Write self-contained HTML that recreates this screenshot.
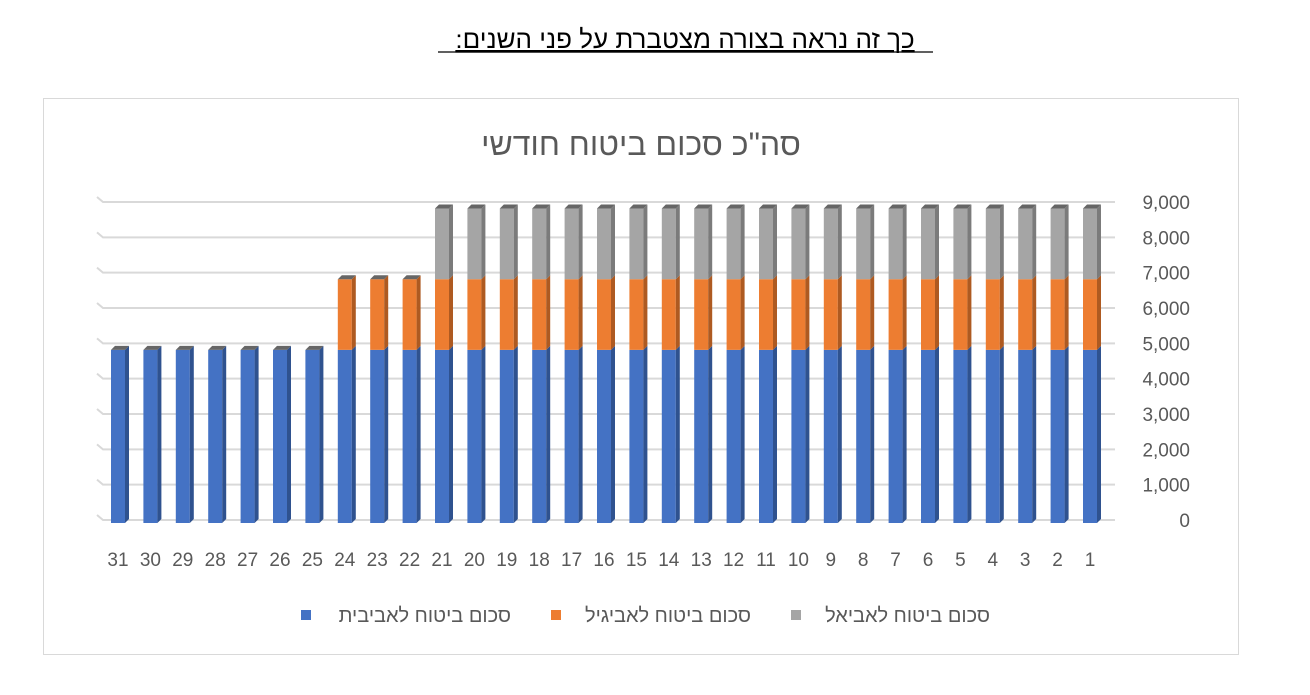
<!DOCTYPE html>
<html><head><meta charset="utf-8">
<style>
body{margin:0;background:#fff;width:1310px;height:690px;overflow:hidden;font-family:"Liberation Sans","DejaVu Sans",sans-serif;}
</style></head>
<body>
<svg width="1310" height="690" viewBox="0 0 1310 690" xmlns="http://www.w3.org/2000/svg">
<text x="685" y="48" text-anchor="middle" font-size="26" fill="#000" text-decoration="underline" direction="rtl">כך זה נראה בצורה מצטברת על פני השנים:</text>
<line x1="438" y1="52" x2="933" y2="52" stroke="#000" stroke-width="1.3"/>
<rect x="43.5" y="98.5" width="1195" height="556" fill="#fff" stroke="#d9d9d9"/>
<text x="641" y="155" text-anchor="middle" font-size="32" fill="#595959" direction="rtl">סה"כ סכום ביטוח חודשי</text>
<g id="grid"></g>
<g id="bars"></g>
<g id="yaxis"></g>
<g id="xaxis"></g>
<g>
  <rect x="301" y="610" width="10" height="10" fill="#4472c4"/>
  <text x="511" y="622" text-anchor="end" font-size="20" fill="#595959" direction="ltr">סכום ביטוח לאביבית</text>
  <rect x="551" y="610" width="10" height="10" fill="#ed7d31"/>
  <text x="751" y="622" text-anchor="end" font-size="20" fill="#595959">סכום ביטוח לאביגיל</text>
  <rect x="791" y="610" width="10" height="10" fill="#a5a5a5"/>
  <text x="990" y="622" text-anchor="end" font-size="20" fill="#595959">סכום ביטוח לאביאל</text>
</g>
</svg>
<script>
const categories = Array.from({length:31},(_,i)=>String(i+1));
const avivit = [4900,4900,4900,4900,4900,4900,4900,4900,4900,4900,4900,4900,4900,4900,4900,4900,4900,4900,4900,4900,4900,4900,4900,4900,4900,4900,4900,4900,4900,4900,4900];
const avigail = [2000,2000,2000,2000,2000,2000,2000,2000,2000,2000,2000,2000,2000,2000,2000,2000,2000,2000,2000,2000,2000,2000,2000,2000,0,0,0,0,0,0,0];
const aviel = [2000,2000,2000,2000,2000,2000,2000,2000,2000,2000,2000,2000,2000,2000,2000,2000,2000,2000,2000,2000,2000,0,0,0,0,0,0,0,0,0,0];
const yTicks = [0,1000,2000,3000,4000,5000,6000,7000,8000,9000];
const yTickLabels = ["0","1,000","2,000","3,000","4,000","5,000","6,000","7,000","8,000","9,000"];

const NS="http://www.w3.org/2000/svg";
const y0=520, yPer=(520-202)/9000;
function yScale(v){return y0-v*yPer;}
function xScale(i){return 1090-i*32.4;}
function mk(tag,attrs,parent){const e=document.createElementNS(NS,tag);for(const k in attrs)e.setAttribute(k,attrs[k]);parent.appendChild(e);return e;}
const grid=document.getElementById('grid'),bars=document.getElementById('bars'),yaxis=document.getElementById('yaxis'),xaxis=document.getElementById('xaxis');
yTicks.forEach((t,i)=>{
  const y=yScale(t);
  const l=mk('polyline',{points:`97,${y-5} 103,${y} 1115,${y}`,fill:'none',stroke:'#d9d9d9','stroke-width':2},grid);
  
  
  const tx=mk('text',{x:1190,y:y+7,'text-anchor':'end','font-size':19,fill:'#595959'},yaxis);
  tx.textContent=yTickLabels[i];
  
  
});
const series=[[avivit,'#4472c4','#2f528f'],[avigail,'#ed7d31','#ae5a21'],[aviel,'#a5a5a5','#7b7b7b']];
categories.forEach((c,i)=>{
  const cx=xScale(i), w=14, d=4;
  let base=0;
  series.forEach(([arr,fc,sc],si)=>{
    const v=arr[i]; if(!v) return;
    const yb=yScale(base)+3, yt=yScale(base+v)+3;
    const f=mk('rect',{x:cx-w/2,y:yt,width:w,height:yb-yt,fill:fc},bars);
    
    
    const s=mk('polygon',{points:`${cx+w/2},${yt} ${cx+w/2+d},${yt-d} ${cx+w/2+d},${yb-d} ${cx+w/2},${yb}`,fill:sc},bars);
    
    
    base+=v;
  });
  const top=yScale(base)+3;
  const tp=mk('polygon',{points:`${cx-w/2},${top} ${cx-w/2+d},${top-d} ${cx+w/2+d},${top-d} ${cx+w/2},${top}`,fill:'#666'},bars);
  
  
  const lt=mk('text',{x:cx,y:566,'text-anchor':'middle','font-size':19,fill:'#595959'},xaxis);
  lt.textContent=c;
  
  
});
</script>
</body></html>
